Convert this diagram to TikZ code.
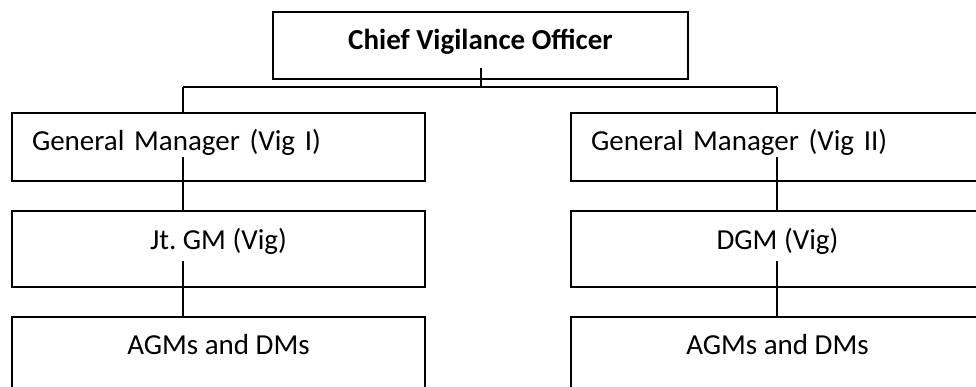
\documentclass[tikz,border=0pt]{standalone}
\usepackage{fontspec}
\setmainfont{Carlito}
\frenchspacing

\begin{document}
\begin{tikzpicture}[x=1pt,y=-1pt,
  post/.style={draw,line width=1.5pt,rectangle,minimum width=413pt,inner sep=0pt,
    font=\fontsize{29}{34}\selectfont},
  link/.style={line width=1.3pt}]
\useasboundingbox (0,0) rectangle (976,387);
\clip (0,0) rectangle (976,387);

% Top post
\node[post,minimum width=415pt,minimum height=67pt,text height=15pt,text depth=6pt,
  font=\fontsize{29}{34}\selectfont\bfseries] (cvo) at (480.5,45.5) {Chief Vigilance Officer};

% General managers
\node[post,minimum height=68pt,text height=14pt,text depth=6pt,inner xsep=20pt,
  text width=373pt,align=left] (gm1) at (218.5,147) {General Manager (Vig I)};
\node[post,minimum height=68pt,text height=14pt,text depth=6pt,inner xsep=20pt,
  text width=373pt,align=left] (gm2) at (777.5,147) {General Manager (Vig II)};

% Second level
\node[post,minimum height=76pt,text height=12pt,text depth=10pt] (jgm) at (218.5,249) {Jt. GM (Vig)};
\node[post,minimum height=76pt,text height=12pt,text depth=10pt] (dgm) at (777.5,249) {DGM (Vig)};

% Bottom level
\node[post,minimum height=83pt,text height=6pt,text depth=15pt] (agm1) at (218.5,358.5) {AGMs and DMs};
\node[post,minimum height=83pt,text height=6pt,text depth=15pt] (agm2) at (777.5,358.5) {AGMs and DMs};

% Bus and taps
\coordinate (tick) at (481,68);
\coordinate (busL) at (183,87);
\coordinate (busR) at (777,87);
\coordinate (tapL1) at (183,157);
\coordinate (tapR1) at (777,157);
\coordinate (tapL2) at (183,261);
\coordinate (tapR2) at (777,261);

\draw[link] (tick) -- (tick |- busL);
\draw[link] (busL) -- (busR);
\draw[link] (busL) -- (busL |- gm1.north);
\draw[link] (busR) -- (busR |- gm2.north);
\draw[link] (tapL1) -- (tapL1 |- jgm.north);
\draw[link] (tapR1) -- (tapR1 |- dgm.north);
\draw[link] (tapL2) -- (tapL2 |- agm1.north);
\draw[link] (tapR2) -- (tapR2 |- agm2.north);
\end{tikzpicture}
\end{document}
